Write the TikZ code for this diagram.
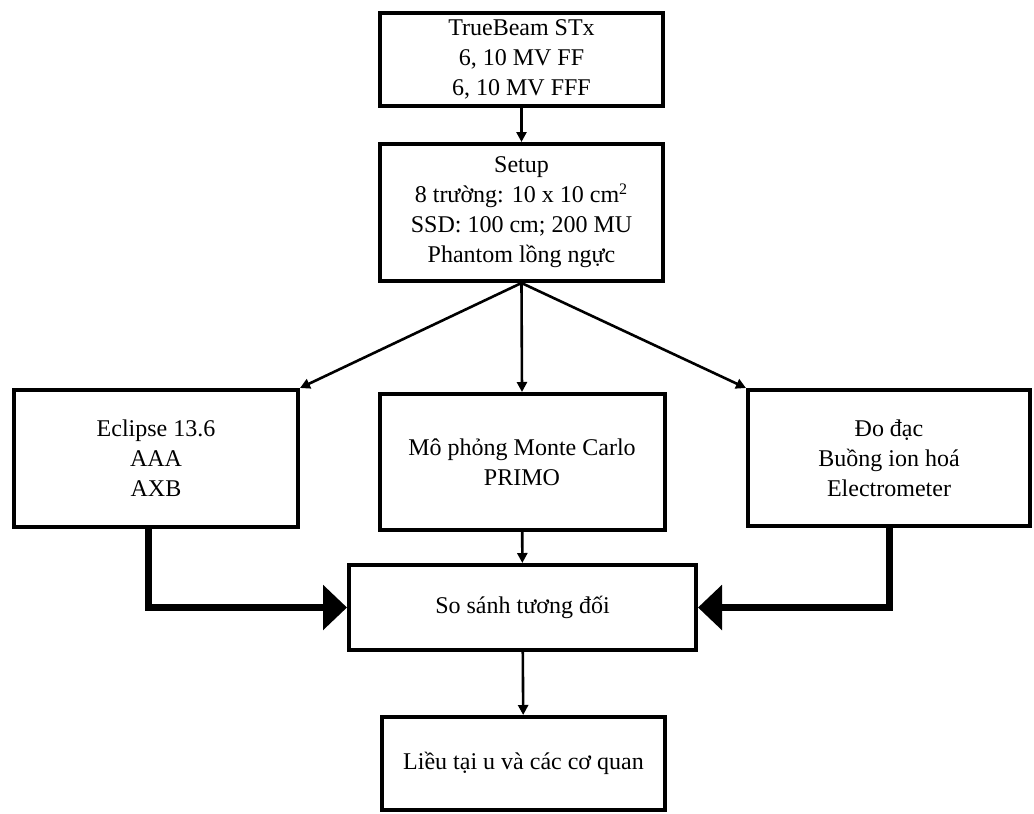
\documentclass[tikz,border=0pt]{standalone}
\usepackage{fontspec}
\setmainfont{Liberation Serif}
\usetikzlibrary{arrows.meta}
\begin{document}
\begin{tikzpicture}[x=0.5pt,y=-0.5pt,
    box/.style={draw, line width=2pt, align=center, inner sep=2pt,
      font=\fontsize{12pt}{15pt}\selectfont},
    thin/.style={line width=1.3pt, -{Triangle[length=5pt,width=5pt]}},
    fat/.style={line width=3.5pt, -{Triangle[length=12pt,width=22pt]}}]
  \useasboundingbox (0,0) rectangle (1034,814);
  % khung tren
  \node[box, minimum width=141.5pt, minimum height=46.5pt] (stx) at (521.5,59)
      {TrueBeam STx\\ 6, 10 MV FF\\ 6, 10 MV FFF};
  \node[box, minimum width=141.5pt, minimum height=68.5pt] (setup) at (521.5,212.5)
      {Setup\\ 8 trường: 10 x 10 cm\textsuperscript{2}\\ SSD: 100 cm; 200 MU\\ Phantom lồng ngực};
  % ba nhanh
  \node[box, minimum width=142pt, minimum height=68.5pt] (tps) at (156,458.5)
      {Eclipse 13.6\\ AAA\\ AXB};
  \node[box, minimum width=142.5pt, minimum height=68pt] (mc) at (522,462)
      {Mô phỏng Monte Carlo\\ PRIMO};
  \node[box, minimum width=141pt, minimum height=68pt] (meas) at (889,458)
      {Đo đạc\\ Buồng ion hoá\\ Electrometer};
  \node[box, minimum width=173.5pt, minimum height=42.5pt] (cmp) at (522.5,607.5)
      {So sánh tương đối};
  \node[box, minimum width=141.5pt, minimum height=46.5pt] (dose) at (523.5,763.5)
      {Liều tại u và các cơ quan};
  \draw[thin] (stx) -- (setup);
  \draw[thin] (setup.south) -- (tps.north east);
  \draw[thin] (setup.south) -- (mc.north);
  \draw[thin] (setup.south) -- (meas.north west);
  \draw[thin] (mc) -- (cmp);
  \draw[fat] ([xshift=-4pt]tps.south) |- (cmp.west);
  \draw[fat] (meas.south) |- (cmp.east);
  \draw[thin] (cmp) -- (dose);
\end{tikzpicture}
\end{document}
